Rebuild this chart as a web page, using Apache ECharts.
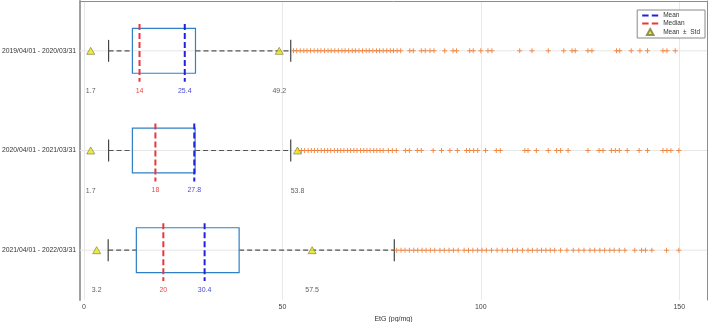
<!DOCTYPE html>
<html>
<head>
<meta charset="utf-8">
<script src="https://cdn.jsdelivr.net/npm/echarts@6/dist/echarts.min.js"></script>
<style>
  html, body { margin: 0; padding: 0; background: #fff; }
  #chart { width: 709px; height: 322px; }
</style>
</head>
<body>
<div id="chart"></div>
<script>
// periods (top to bottom)
const categories = ['2019/04/01 - 2020/03/31', '2020/04/01 - 2021/03/31', '2021/04/01 - 2022/03/31'];

// box stats, EtG (pg/mg)
const q1 = [12.2, 12.2, 13.2];
const q3 = [28.1, 28.0, 39.1];
const medians = [14, 18, 20];
const means = [25.4, 27.8, 30.4];
const whiskerLow = [6.2, 6.2, 6.1];
const whiskerHigh = [52.1, 52.1, 78.2];
const stdLow = [1.7, 1.7, 3.2];
const stdHigh = [49.2, 53.8, 57.5];

// outliers per period
const outliers2019 = [52.8, 53.6, 54.5, 55.4, 56.2, 57.1, 58.0, 58.9, 59.7, 60.6, 61.5, 62.3, 63.2, 64.1, 65.0, 65.8,
  66.7, 67.6, 68.4, 69.3, 70.2, 71.1, 71.9, 72.8, 73.7, 74.5, 75.4, 76.3, 77.2, 78.0, 78.9, 79.8,
  82.1, 83.0, 85.0, 86.0, 87.2, 88.2, 90.9, 93.0, 93.9, 97.2, 98.1, 100.0, 101.8, 102.8, 109.8, 112.9,
  117.0, 120.9, 123.0, 123.8, 127.0, 128.0, 134.2, 135.0, 137.9, 140.1, 142.0, 145.9, 146.9, 149.0];
const outliers2020 = [54.0, 54.8, 55.6, 56.5, 57.3, 58.1, 58.9, 59.8, 60.6, 61.4, 62.2, 63.1, 63.9, 64.7, 65.5, 66.4,
  67.2, 68.0, 68.8, 69.7, 70.5, 71.3, 72.1, 73.0, 73.8, 74.6, 75.4,
  76.7, 77.7, 78.7, 81.0, 82.0, 84.0, 85.0, 88.0, 90.1, 92.2, 94.1, 96.4, 97.2, 98.2, 99.2, 101.2, 103.9,
  104.9, 111.1, 111.9, 114.0, 117.0, 119.1, 120.1, 122.0, 127.0, 129.8, 130.8, 132.9, 133.9, 134.9,
  136.9, 139.9, 142.0, 145.9, 146.9, 147.9, 149.9];
const outliers2021 = [78.8, 79.9, 80.9, 82.0, 83.1, 84.1, 85.2, 86.2, 87.3, 88.4, 89.7, 90.8, 92.0, 93.1, 94.3,
  95.8, 96.9, 98.0, 99.2, 100.3, 101.4, 102.7, 104.1, 105.4, 106.7, 108.0, 109.2, 110.5, 111.9, 113.0,
  114.2, 115.3, 116.4, 117.5, 118.6, 120.1, 121.7, 123.3, 124.7, 126.0, 127.5, 128.7, 130.0, 131.2,
  132.5, 133.6, 134.9, 136.3, 138.8, 140.5, 141.5, 143.1, 146.8, 149.9];

const xMin = -1;
const xMax = 157;

const FONT = 'Liberation Sans, Arial, sans-serif';
const dashIcon = 'path://M0,0H6V2H0Z M9,0H15V2H9Z';
const triIcon = 'path://M5,0L10,9H0Z';
const plusIcon = 'path://M4,0H6V4H10V6H6V10H4V6H0V4H4Z';

const chart = echarts.init(document.getElementById('chart'));

function boxItem(params, api) {
  const i = api.value(0);
  const band = api.size([0, 1])[1];
  const y = api.coord([0, i])[1];
  const xLo = api.coord([api.value(1), i])[0];
  const xQ1 = api.coord([api.value(2), i])[0];
  const xQ3 = api.coord([api.value(3), i])[0];
  const xHi = api.coord([api.value(4), i])[0];
  const cs = params.coordSys;
  const bh = band * 0.225;
  const cap = band * 0.11;
  const dashed = { stroke: '#555', lineWidth: 1.2, lineDash: [5, 3] };
  return {
    type: 'group',
    children: [
      { type: 'line', shape: { x1: cs.x, y1: y, x2: cs.x + cs.width, y2: y }, style: { stroke: '#e6e6e6', lineWidth: 1 } },
      { type: 'line', shape: { x1: xLo, y1: y, x2: xQ1, y2: y }, style: dashed },
      { type: 'line', shape: { x1: xQ3, y1: y, x2: xHi, y2: y }, style: dashed },
      { type: 'line', shape: { x1: xLo, y1: y - cap, x2: xLo, y2: y + cap }, style: { stroke: '#444', lineWidth: 1.2 } },
      { type: 'line', shape: { x1: xHi, y1: y - cap, x2: xHi, y2: y + cap }, style: { stroke: '#444', lineWidth: 1.2 } },
      { type: 'rect', shape: { x: xQ1, y: y - bh, width: xQ3 - xQ1, height: bh * 2 }, style: { fill: 'none', stroke: '#2f80c4', lineWidth: 1.2 } }
    ]
  };
}

function statLine(color, textColor) {
  return function (params, api) {
    const v = api.value(0);
    const i = api.value(1);
    const band = api.size([0, 1])[1];
    const p = api.coord([v, i]);
    return {
      type: 'group',
      children: [
        { type: 'line', shape: { x1: p[0], y1: p[1] - band * 0.27, x2: p[0], y2: p[1] + band * 0.31 },
          style: { stroke: color, lineWidth: 2, lineDash: [6, 3] } },
        { type: 'text', style: { text: String(v), x: p[0], y: p[1] + band * 0.4, fill: textColor,
          font: '7px ' + FONT, align: 'center', verticalAlign: 'middle' } }
      ]
    };
  };
}

const boxData = categories.map((c, i) => [i, whiskerLow[i], q1[i], q3[i], whiskerHigh[i]]);
const medianData = medians.map((v, i) => [v, i]);
const meanData = means.map((v, i) => [v, i]);
const stdData = [];
stdLow.forEach((v, i) => stdData.push([v, i]));
stdHigh.forEach((v, i) => stdData.push([v, i]));
const outlierData = []
  .concat(outliers2019.map(v => [v, 0]))
  .concat(outliers2020.map(v => [v, 1]))
  .concat(outliers2021.map(v => [v, 2]));

const axisGray = '#8c8c8c';

chart.setOption({
  animation: false,
  textStyle: { fontFamily: FONT },
  grid: { left: 80, right: 2, top: 1, bottom: 22, outerBoundsMode: 'none', containLabel: false },
  legend: {
    orient: 'vertical',
    right: 4,
    top: 10,
    itemWidth: 16,
    itemHeight: 6,
    itemGap: 1,
    padding: [2, 5, 2, 5],
    backgroundColor: '#fff',
    borderColor: '#888',
    borderWidth: 1,
    textStyle: { fontSize: 6.5, color: '#333', fontFamily: FONT },
    data: [
      { name: 'Mean', icon: dashIcon },
      { name: 'Median', icon: dashIcon },
      { name: 'Mean  ±  Std', icon: triIcon }
    ]
  },
  xAxis: [
    {
      type: 'value',
      min: xMin,
      max: xMax,
      splitNumber: 3,
      name: 'EtG (pg/mg)',
      nameLocation: 'middle',
      nameGap: 11,
      nameTextStyle: { fontSize: 7, color: '#333' },
      axisLine: { onZero: false, lineStyle: { color: axisGray, width: 1 } },
      axisTick: { inside: true, length: 4, lineStyle: { color: axisGray } },
      axisLabel: { fontSize: 7, color: '#444', margin: 4, showMinLabel: false, showMaxLabel: false },
      splitLine: { show: true, lineStyle: { color: '#e8e8e8' } }
    },
    {
      type: 'value',
      position: 'top',
      min: xMin,
      max: xMax,
      splitNumber: 3,
      axisLine: { show: true, onZero: false, lineStyle: { color: axisGray } },
      axisTick: { inside: true, length: 4, lineStyle: { color: axisGray } },
      axisLabel: { show: false },
      splitLine: { show: false }
    }
  ],
  yAxis: [
    {
      type: 'category',
      data: categories,
      inverse: true,
      axisLine: { onZero: false, lineStyle: { color: '#a0a0a0', width: 2 } },
      axisTick: { alignWithLabel: true, inside: true, length: 5, lineStyle: { color: axisGray } },
      axisLabel: { fontSize: 6.8, color: '#333', margin: 4 },
      splitLine: { show: false }
    },
    {
      type: 'category',
      data: categories,
      inverse: true,
      position: 'right',
      axisLine: { show: true, onZero: false, lineStyle: { color: axisGray } },
      axisTick: { alignWithLabel: true, inside: true, length: 4, lineStyle: { color: axisGray } },
      axisLabel: { show: false },
      splitLine: { show: false }
    }
  ],
  series: [
    {
      name: 'box',
      type: 'custom',
      renderItem: boxItem,
      encode: { x: [1, 2, 3, 4], y: 0 },
      data: boxData,
      z: 2
    },
    {
      name: 'Median',
      type: 'custom',
      itemStyle: { color: '#e8383d' },
      renderItem: statLine('#e8383d', '#e84a4a'),
      encode: { x: 0, y: 1 },
      data: medianData,
      z: 3
    },
    {
      name: 'Mean',
      type: 'custom',
      itemStyle: { color: '#2222dd' },
      renderItem: statLine('#2222dd', '#4a4ad0'),
      encode: { x: 0, y: 1 },
      data: meanData,
      z: 3
    },
    {
      name: 'outliers',
      type: 'scatter',
      symbol: plusIcon,
      symbolSize: 5,
      itemStyle: { color: '#eb7428' },
      data: outlierData,
      z: 4
    },
    {
      name: 'Mean  ±  Std',
      type: 'scatter',
      symbol: 'triangle',
      symbolSize: [8, 7],
      itemStyle: { color: '#e6e614', borderColor: '#7a7a3a', borderWidth: 0.8 },
      label: {
        show: true,
        position: 'bottom',
        distance: 33,
        fontSize: 7,
        color: '#333',
        formatter: p => String(p.value[0])
      },
      data: stdData,
      z: 5
    }
  ]
});
</script>
</body>
</html>
